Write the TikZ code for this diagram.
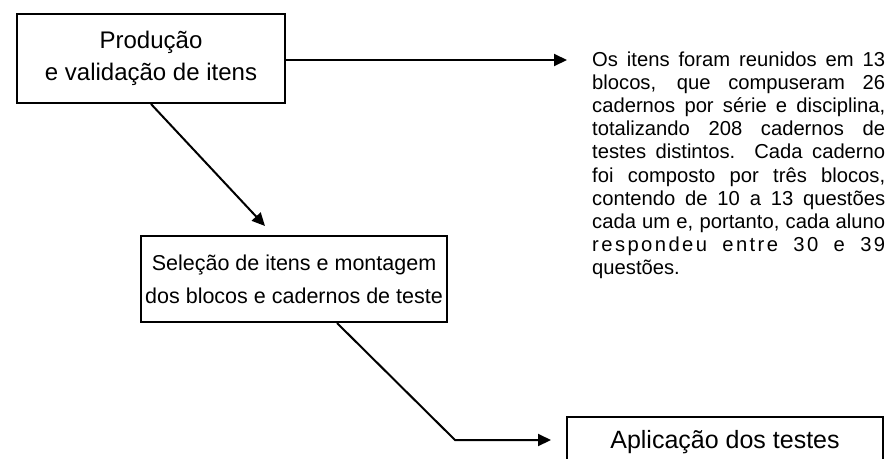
\documentclass[tikz,border=0pt]{standalone}
\usepackage{fontspec}
\setmainfont{Liberation Sans}
\usetikzlibrary{arrows.meta}
\begin{document}
\begin{tikzpicture}[x=1pt,y=-1pt,
  box/.style={draw,line width=2pt,inner sep=0pt,align=center,font=\fontsize{24}{32}\selectfont},
  arr/.style={line width=2pt,-{Triangle[length=13pt,width=12pt]}}]
\useasboundingbox (0,0) rectangle (888,458);
\clip (0,0) rectangle (888,458);
\node[box,minimum width=268pt,minimum height=89pt] (b1) at (151,58.5) {Produção\\e validação de itens};
\node[box,minimum width=306pt,minimum height=86pt,font=\fontsize{21.5}{33}\selectfont] (b2) at (294,279) {Seleção de itens e montagem\\dos blocos e cadernos de teste};
\node[box,minimum width=316pt,minimum height=50pt,font=\fontsize{25}{32}\selectfont] (b3) at (725,442) {Aplicação dos testes};
\node[anchor=base west,inner sep=0pt,text width=293pt,align=justify,
  font=\fontsize{20.2}{23.2}\selectfont] (t) at (592,66)
 {Os itens foram reunidos em 13\linebreak
  blocos, que compuseram 26\linebreak
  cadernos por série e disciplina,\linebreak
  totalizando 208 cadernos de\linebreak
  testes distintos. Cada caderno\linebreak
  foi composto por três blocos,\linebreak
  contendo de 10 a 13 questões\linebreak
  cada um e, portanto, cada aluno\linebreak
  {\addfontfeature{LetterSpace=12}respondeu entre 30 e 39}\linebreak
  questões.};
\coordinate (a1) at (567,60);
\coordinate (a2) at (265,226);
\coordinate (k) at (455,440);
\draw[arr] (b1.east |- a1) -- (a1);
\draw[arr] (b1.south) -- (a2);
\draw[arr] ([xshift=43pt]b2.south) -- (k) -- ([xshift=-15pt]b3.west |- k);
\end{tikzpicture}
\end{document}
